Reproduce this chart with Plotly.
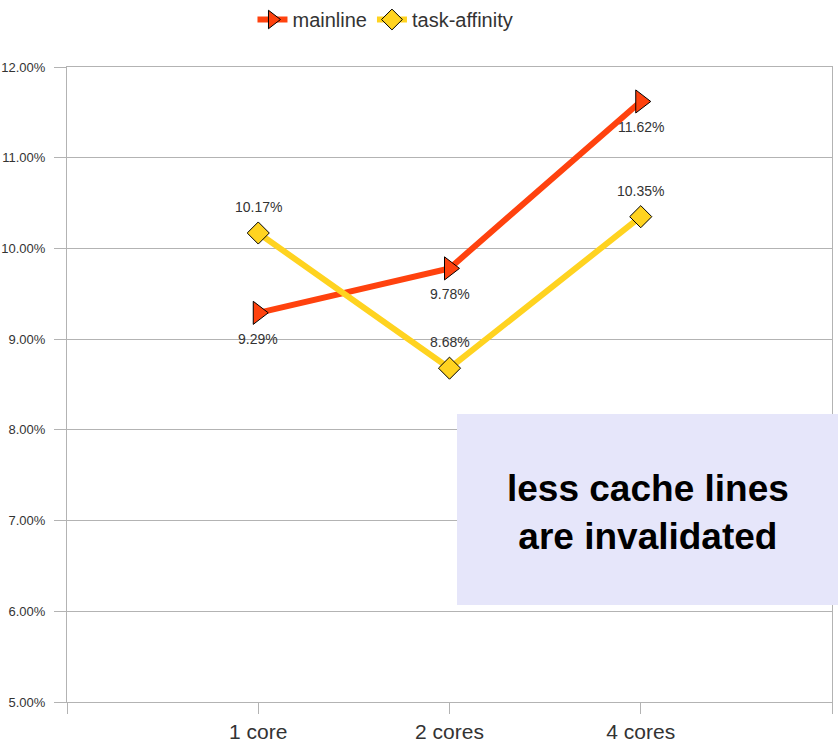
import plotly.graph_objects as go

categories = ["1 core", "2 cores", "4 cores"]
mainline = [9.29, 9.78, 11.62]
task_affinity = [10.17, 8.68, 10.35]
y_ticks = [5, 6, 7, 8, 9, 10, 11, 12]
y_tick_labels = ["5.00%", "6.00%", "7.00%", "8.00%", "9.00%", "10.00%", "11.00%", "12.00%"]
note_text = "less cache lines<br>are invalidated"

xs = list(range(len(categories)))
W, H = 838, 745
L, R, T, B = 67, 6, 67, 43
FONT = "Liberation Sans, Arial, sans-serif"

fig = go.Figure()
fig.add_trace(go.Scatter(
    x=xs, y=mainline, name="mainline", mode="lines+markers",
    line=dict(color="#ff420e", width=6),
    marker=dict(symbol="triangle-right", size=20, color="#ff420e",
                line=dict(color="#000000", width=1)),
    cliponaxis=False,
))
fig.add_trace(go.Scatter(
    x=xs, y=task_affinity, name="task-affinity", mode="lines+markers",
    line=dict(color="#ffd320", width=6),
    marker=dict(symbol="diamond", size=17, color="#ffd320",
                line=dict(color="#000000", width=1)),
    cliponaxis=False,
))

# data labels: mainline below, task-affinity above
for x, v in zip(xs, mainline):
    fig.add_annotation(x=x, y=v, text=f"{v:.2f}%", showarrow=False, yshift=-26,
                       font=dict(family=FONT, size=14, color="#333333"))
for x, v in zip(xs, task_affinity):
    fig.add_annotation(x=x, y=v, text=f"{v:.2f}%", showarrow=False, yshift=26,
                       font=dict(family=FONT, size=14, color="#333333"))

grid = "#b3b3b3"
fig.update_layout(
    template="none",
    width=W, height=H,
    margin=dict(l=L, r=R, t=T, b=B, pad=0),
    paper_bgcolor="white", plot_bgcolor="white",
    font=dict(family=FONT, size=20, color="#333333"),
    showlegend=True,
    legend=dict(orientation="h", x=0.46, xanchor="center", xref="container",
                y=1.0, yanchor="top", yref="container",
                font=dict(size=20, color="#333333"), itemwidth=30,
                bgcolor="rgba(0,0,0,0)", traceorder="normal"),
    xaxis=dict(
        range=[-1, len(categories)], tickmode="array",
        tickvals=[-1] + xs + [len(categories)],
        ticktext=[""] + categories + [""],
        showgrid=False, zeroline=False,
        showline=True, linecolor=grid, linewidth=1, mirror=True,
        ticks="outside", ticklen=11, tickcolor=grid, tickwidth=1,
        tickfont=dict(size=21, color="#333333"), automargin=False,
    ),
    yaxis=dict(
        range=[5, 12], tickmode="array", tickvals=y_ticks, ticktext=y_tick_labels,
        showgrid=True, gridcolor=grid, gridwidth=1, zeroline=False,
        showline=True, linecolor=grid, linewidth=1, mirror=True,
        ticks="outside", ticklen=12, tickcolor=grid, tickwidth=1,
        tickfont=dict(size=13, color="#333333"), automargin=False,
        ticklabelstandoff=6,
    ),
)

pw, ph = W - L - R, H - T - B
def px(x):
    return (x - L) / pw
def py(y):
    return (H - B - y) / ph

fig.add_shape(type="rect", xref="paper", yref="paper",
              x0=px(457), x1=px(840), y0=py(605), y1=py(414),
              fillcolor="#e6e6fa", line=dict(width=0), layer="above")
fig.add_annotation(xref="paper", yref="paper", x=px(648), y=py(512),
                   text=note_text, showarrow=False,
                   font=dict(family=FONT, size=37, color="#000000", weight="bold"),
                   xanchor="center", yanchor="middle")

fig.write_html("out.html")
